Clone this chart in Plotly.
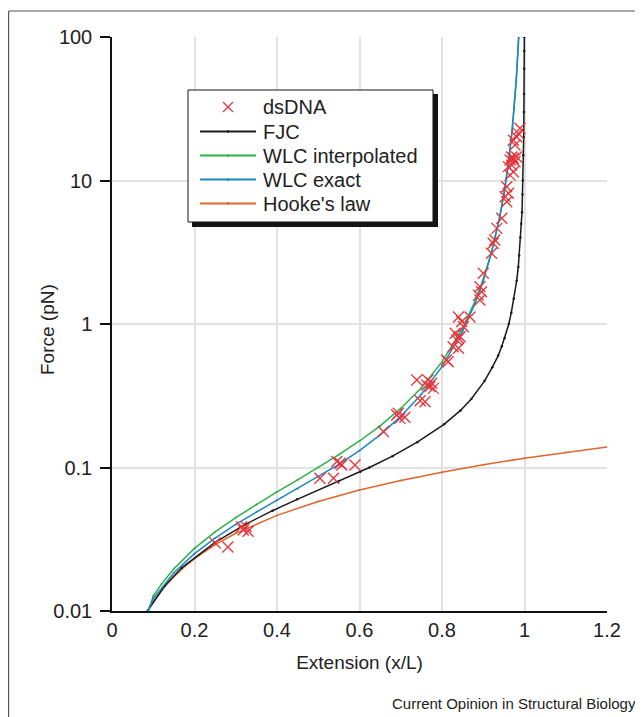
import plotly.graph_objects as go

# ---------------- data ----------------
# dsDNA measurements (extension x/L, force pN)
dna_x = [0.250, 0.281, 0.314, 0.318, 0.325, 0.330,
         0.504, 0.537, 0.545, 0.553, 0.557, 0.589,
         0.658, 0.690, 0.694, 0.698, 0.710,
         0.739, 0.747, 0.759, 0.763, 0.766, 0.771, 0.775, 0.779,
         0.811, 0.815, 0.827, 0.832, 0.836, 0.840, 0.840, 0.844, 0.840, 0.848, 0.852, 0.868,
         0.888, 0.892, 0.892, 0.896, 0.900,
         0.920, 0.924, 0.928, 0.933, 0.945,
         0.957, 0.953, 0.961, 0.957, 0.965, 0.973, 0.961, 0.969, 0.965, 0.977, 0.973,
         0.969, 0.981, 0.977, 0.973, 0.981, 0.985, 0.989]
dna_f = [0.0298, 0.0279, 0.0387, 0.0367, 0.0387, 0.0360,
         0.0841, 0.0841, 0.110, 0.107, 0.104, 0.104,
         0.178, 0.232, 0.239, 0.220, 0.224,
         0.407, 0.292, 0.287, 0.376, 0.407, 0.366, 0.386, 0.356,
         0.561, 0.546, 0.695, 0.861, 0.774, 0.795, 0.677, 0.816, 1.12, 1.04, 0.958, 1.12,
         1.59, 1.82, 1.47, 1.68, 2.26,
         3.11, 3.65, 3.85, 4.64, 5.45,
         7.11, 7.71, 8.14, 9.05, 10.9, 11.5, 12.5, 12.8, 13.9, 13.5, 14.3,
         14.6, 14.6, 17.7, 19.1, 20.2, 21.3, 23.1]

# Freely jointed chain
fjc_x = [0.086, 0.128, 0.169, 0.249, 0.322, 0.389, 0.449, 0.549, 0.602, 0.624, 0.680,
         0.740, 0.805, 0.845, 0.871, 0.903, 0.922, 0.936, 0.945, 0.952, 0.962, 0.968,
         0.974, 0.981, 0.985, 0.987, 0.990, 0.992, 0.994, 0.995, 0.996, 0.997, 0.998,
         0.9985, 0.999, 0.9993, 0.9995, 0.9996]
fjc_f = [0.010, 0.015, 0.020, 0.030, 0.040, 0.050, 0.060, 0.080, 0.0935, 0.100, 0.120,
         0.150, 0.200, 0.250, 0.300, 0.400, 0.500, 0.600, 0.700, 0.800, 1.00, 1.20,
         1.50, 2.00, 2.50, 3.00, 4.00, 5.00, 6.00, 8.00, 10.0, 15.0, 20.0,
         30.0, 40.0, 60.0, 80.0, 100.0]

# Worm-like chain, interpolation formula
wlci_x = [0.088, 0.100, 0.120, 0.150, 0.200, 0.250, 0.300, 0.350, 0.400, 0.450, 0.500,
          0.550, 0.600, 0.650, 0.700, 0.750, 0.800, 0.850, 0.880, 0.900, 0.920, 0.940,
          0.950, 0.960, 0.970, 0.975, 0.980, 0.985, 0.9859]
wlci_f = [0.0100, 0.0127, 0.0154, 0.0197, 0.0273, 0.0356, 0.0448, 0.0553, 0.0676, 0.0821, 0.100,
          0.123, 0.153, 0.195, 0.258, 0.360, 0.544, 0.937, 1.44, 2.05, 3.18, 5.61,
          8.06, 12.6, 22.3, 32.1, 50.1, 89.0, 100.0]

# Worm-like chain, exact
wlce_x = [0.088, 0.100, 0.150, 0.200, 0.250, 0.300, 0.350, 0.400, 0.450, 0.500,
          0.550, 0.600, 0.650, 0.700, 0.750, 0.800, 0.850, 0.880, 0.900, 0.920, 0.940,
          0.950, 0.960, 0.970, 0.975, 0.980, 0.9859]
wlce_f = [0.0101, 0.0122, 0.0185, 0.0251, 0.0322, 0.0401, 0.0489, 0.0591, 0.0711, 0.0860,
          0.105, 0.131, 0.169, 0.227, 0.324, 0.504, 0.892, 1.39, 2.00, 3.13, 5.56,
          8.00, 12.5, 22.2, 32.0, 50.0, 100.0]

# Hooke's law
hooke_x = [0.086, 0.100, 0.120, 0.140, 0.170, 0.200, 0.250, 0.300, 0.400, 0.500,
           0.600, 0.700, 0.800, 0.900, 1.000, 1.100, 1.200]
hooke_f = [0.0100, 0.0116, 0.0139, 0.0162, 0.0197, 0.0232, 0.0290, 0.0348, 0.0464, 0.0580,
           0.0696, 0.0812, 0.0928, 0.1044, 0.1160, 0.1276, 0.1392]

x_ticks = [0, 0.2, 0.4, 0.6, 0.8, 1.0, 1.2]
x_ticktext = ["0", "0.2", "0.4", "0.6", "0.8", "1", "1.2"]
y_ticks = [0.01, 0.1, 1, 10, 100]
y_ticktext = ["0.01", "0.1", "1", "10", "100"]

series_names = ["dsDNA", "FJC", "WLC interpolated", "WLC exact", "Hooke's law"]

# ---------------- styling ----------------
RED = "#e8333a"
BLACK = "#1a1a1a"
GREEN = "#2bb14b"
BLUE = "#1b87c6"
ORANGE = "#e0662c"
TXT = "#222222"
GRID = "#e2e2e2"
FONT = "Liberation Sans, Arial, Helvetica, sans-serif"

# the page body has an 8px margin: size the figure so it fits the window
OFF = 8
W, H = 643 - OFF, 717 - OFF
ML, MR, MT, MB = 112 - OFF, 36, 37 - OFF, 106
PW, PH = W - ML - MR, H - MT - MB


def px(sx):
    """screen x pixel -> paper x"""
    return (sx - OFF - ML) / PW


def py(sy):
    """screen y pixel -> paper y"""
    return (H - MB - (sy - OFF)) / PH


fig = go.Figure()

fig.add_trace(go.Scatter(x=hooke_x, y=hooke_f, mode="lines+markers", name=series_names[4],
                         line=dict(color=ORANGE, width=1.5),
                         marker=dict(size=2, color=ORANGE)))
fig.add_trace(go.Scatter(x=fjc_x, y=fjc_f, mode="lines+markers", name=series_names[1],
                         line=dict(color=BLACK, width=1.5),
                         marker=dict(size=2.5, color=BLACK)))
fig.add_trace(go.Scatter(x=wlci_x, y=wlci_f, mode="lines+markers", name=series_names[2],
                         line=dict(color=GREEN, width=1.5),
                         marker=dict(size=2, color=GREEN)))
fig.add_trace(go.Scatter(x=wlce_x, y=wlce_f, mode="lines+markers", name=series_names[3],
                         line=dict(color=BLUE, width=1.5),
                         marker=dict(size=2, color=BLUE)))
fig.add_trace(go.Scatter(x=dna_x, y=dna_f, mode="markers", name=series_names[0],
                         marker=dict(symbol="x-thin-open", size=11,
                                     line=dict(color=RED, width=1.3), color=RED)))

shapes = []
annotations = []

# ----- legend box with drop shadow (drawn by hand to match the spacing) -----
LX0, LX1, LY0, LY1 = 188, 433, 90, 222
shapes.append(dict(type="rect", xref="paper", yref="paper", layer="above",
                   x0=px(LX0 + 4), x1=px(LX1 + 5), y0=py(LY1 + 5), y1=py(LY0 + 4),
                   line=dict(width=0), fillcolor="#151515"))
shapes.append(dict(type="rect", xref="paper", yref="paper", layer="above",
                   x0=px(LX0), x1=px(LX1), y0=py(LY1), y1=py(LY0),
                   line=dict(width=1, color="#151515"), fillcolor="white"))
row_y = [107, 131.5, 155.5, 179.5, 203.5]
sym_x0, sym_x1, sym_xc = 200, 256, 228
line_colors = [None, BLACK, GREEN, BLUE, ORANGE]
for i, name in enumerate(series_names):
    yy = row_y[i]
    if i == 0:
        d = 5
        for (a, b, c, e) in [(sym_xc - d, yy - d, sym_xc + d, yy + d),
                             (sym_xc - d, yy + d, sym_xc + d, yy - d)]:
            shapes.append(dict(type="line", xref="paper", yref="paper", layer="above",
                               x0=px(a), y0=py(b), x1=px(c), y1=py(e),
                               line=dict(color=RED, width=1.3)))
    else:
        col = line_colors[i]
        shapes.append(dict(type="line", xref="paper", yref="paper", layer="above",
                           x0=px(sym_x0), y0=py(yy), x1=px(sym_x1), y1=py(yy),
                           line=dict(color=col, width=1.8)))
        shapes.append(dict(type="circle", xref="paper", yref="paper", layer="above",
                           x0=px(sym_xc - 1.3), x1=px(sym_xc + 1.3),
                           y0=py(yy + 1.3), y1=py(yy - 1.3),
                           line=dict(width=0), fillcolor=col))
    annotations.append(dict(text=name, xref="paper", yref="paper", x=px(261), y=py(yy),
                            xanchor="left", yanchor="middle", showarrow=False,
                            font=dict(family=FONT, size=20, color=TXT)))

# ----- page frame lines -----
shapes.append(dict(type="line", xref="paper", yref="paper",
                   x0=px(8.6), x1=px(643), y0=py(11), y1=py(11),
                   line=dict(color="#555555", width=1.2)))
shapes.append(dict(type="line", xref="paper", yref="paper",
                   x0=px(8.6), x1=px(8.6), y0=py(11), y1=py(717),
                   line=dict(color="#555555", width=1.2)))

# y-axis title placed as a rotated annotation
annotations.append(dict(text="Force (pN)", xref="paper", yref="paper",
                        x=px(47), y=py(330), xanchor="center", yanchor="middle",
                        textangle=-90, showarrow=False,
                        font=dict(family=FONT, size=19, color=TXT)))

annotations.append(dict(text="Current Opinion in Structural Biology", xref="paper", yref="paper",
                        x=px(638), y=py(704), xanchor="right", yanchor="middle",
                        showarrow=False, font=dict(family=FONT, size=15, color=TXT)))

fig.update_layout(
    width=W, height=H,
    margin=dict(l=ML, r=MR, t=MT, b=MB),
    paper_bgcolor="white", plot_bgcolor="white",
    font=dict(family=FONT, color=TXT),
    showlegend=False,
    shapes=shapes,
    annotations=annotations,
    xaxis=dict(range=[0, 1.2], tickvals=x_ticks, ticktext=x_ticktext,
               showgrid=True, gridcolor=GRID, gridwidth=1.5, zeroline=False,
               showline=True, linecolor="#111111", linewidth=1.5, ticks="",
               tickfont=dict(family=FONT, size=20, color=TXT),
               title=dict(text="Extension (x/L)", font=dict(family=FONT, size=19, color=TXT),
                          standoff=16)),
    yaxis=dict(type="log", range=[-2, 2], tickvals=y_ticks, ticktext=y_ticktext,
               showgrid=True, gridcolor=GRID, gridwidth=1.5, zeroline=False,
               showline=True, linecolor="#111111", linewidth=1.5,
               ticks="outside", ticklen=10, tickwidth=1.5, tickcolor="#111111",
               ticklabelstandoff=4,
               tickfont=dict(family=FONT, size=20, color=TXT)),
)

fig.write_html("out.html")
